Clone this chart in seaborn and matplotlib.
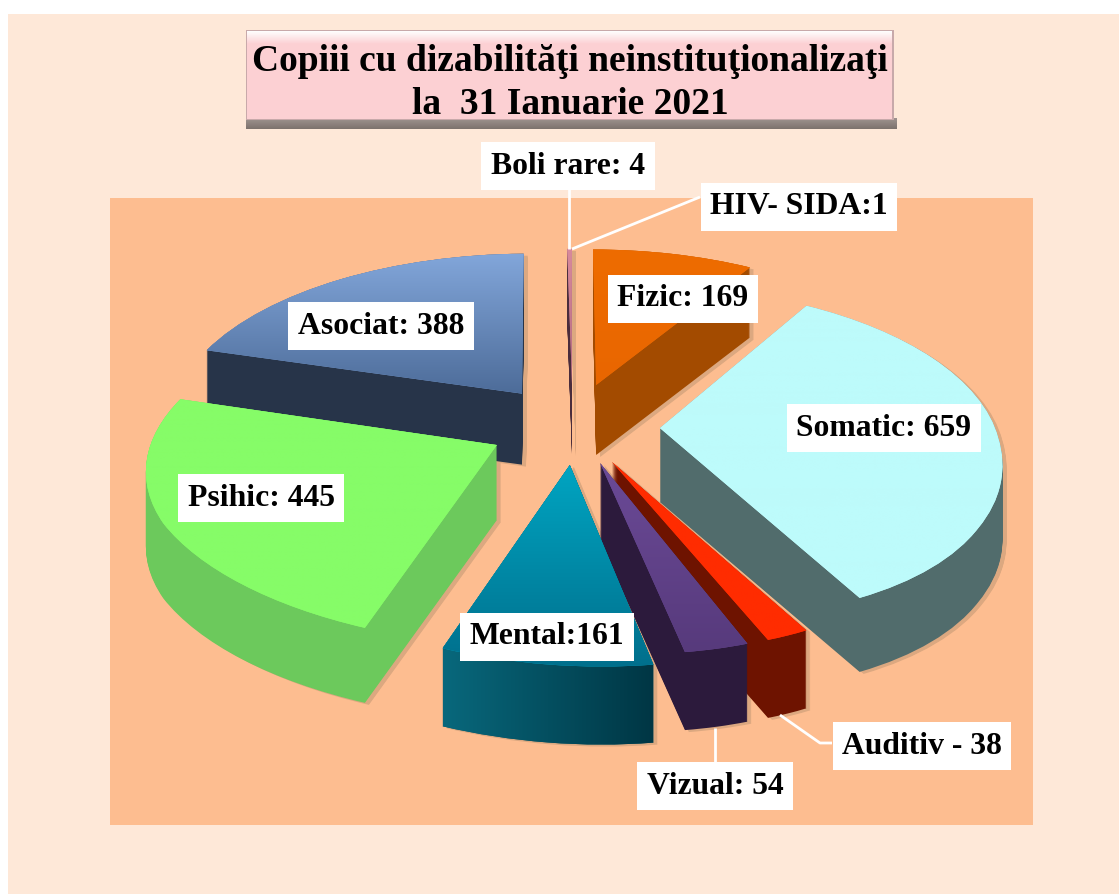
import numpy as np
import matplotlib
matplotlib.use('Agg')
import matplotlib.pyplot as plt
from matplotlib.patches import Rectangle
from matplotlib.path import Path
from matplotlib.transforms import Affine2D, Transform
import seaborn as sns

# data, clockwise from the top
names = ['Fizic', 'Somatic', 'Auditiv', 'Vizual', 'Mental', 'Psihic', 'Asociat', 'Boli rare', 'HIV']
values = [169, 659, 38, 54, 161, 445, 388, 4, 1]
label_texts = ['Fizic: 169', 'Somatic: 659', 'Auditiv - 38', 'Vizual: 54', 'Mental:161',
               'Psihic: 445', 'Asociat: 388', 'Boli rare: 4', 'HIV- SIDA:1']
title_text = 'Copiii cu dizabilităţi neinstituţionalizaţi\nla  31 Ianuarie 2021'

# styling of the slices
top_light = ['#ee6c00', '#bdfbfb', '#ff2c00', '#6b4a97', '#00a5c2', '#86fc68', '#82a6da', '#d98a9c', '#d98a9c']
top_dark = ['#e96600', '#bdfbfb', '#ff2c00', '#573a7c', '#006f8c', '#86fc68', '#4d6c99', '#b56a80', '#b56a80']
side_colors = ['#a34b00', '#516c6c', '#6e1300', '#2c1a3c', '#04505f', '#6cc95c', '#273449', '#4a2c3c', '#4a2c3c']
shifts = [(.072, .095), (.252, -.171), (.111, -.366), (.078, -.372), (-.006, -.383),
          (-.212, -.27), (-.148, .04), (0, .1), (0, .1)]
radii = [1, .96, .9, .91, .95, .98, 1.02, 1, 1]
skews = [0, .08, .12, .09, .085, .11, 0, 0, 0]
depths = [70, 74, 78, 78, 78, 75, 71, 70, 70]
draw_rank = [2, 5, 6, 7, 8, 4, 1, 3, 3]
label_pos = [(683, 299), (884, 428), (922, 746), (715, 786), (547, 637),
             (261, 498), (381, 326), (568, 166), (799, 207)]

sns.set_theme(style='white')
plt.rcParams['font.family'] = ['Liberation Serif', 'DejaVu Serif']
top_light = sns.color_palette(top_light)
top_dark = sns.color_palette(top_dark)

CX, CY, SX, SY, PERSP = 572, 400, 340, 160, .15


class Tilt(Transform):
    # pie plane to picture pixels, with some perspective
    input_dims = 2
    output_dims = 2
    is_affine = False
    has_inverse = False

    def __init__(self, tip_y, skew):
        super().__init__()
        self.tip_y = tip_y
        self.skew = skew

    def transform_non_affine(self, xy):
        xy = np.asarray(xy, dtype=float)
        x, y = xy[:, 0], xy[:, 1]
        x = x + self.skew * np.minimum(y - self.tip_y, 0) ** 2
        f = 1 / (1 + PERSP * y)
        return np.column_stack([CX + SX * x * f, CY - SY * y * f])


fig = plt.figure(figsize=(11.19, 8.94), dpi=100)
ax = fig.add_axes([0, 0, 1, 1])


def gradient(extent, colors, horizontal=False, z=0.0, clip=None):
    c0, c1 = np.array(matplotlib.colors.to_rgb(colors[0])), np.array(matplotlib.colors.to_rgb(colors[1]))
    t = np.linspace(0, 1, 256)[:, None]
    img = (c0[None, :] * (1 - t) + c1[None, :] * t)[:, None, :]
    if horizontal:
        img = img.transpose(1, 0, 2)
    im = ax.imshow(img, extent=extent, origin='upper', aspect='auto', zorder=z, interpolation='bilinear')
    if clip is not None:
        im.set_clip_path(clip)
    return im


# page background
fig.patch.set_facecolor('white')
ax.add_patch(Rectangle((8, 14), 1111, 880, fc='#fee8d8', ec='none', zorder=.1))
ax.add_patch(Rectangle((110, 198), 923, 627, fc='#fdbd90', ec='none', zorder=.2))

# title box
gradient((246, 897, 129, 118), ('#a09490', '#7d726d'), z=1)
ax.add_patch(Rectangle((246, 30), 648, 90, fc='#c8a9aa', ec='none', zorder=1.05))
gradient((247, 892, 44, 31), ('#ffffff', '#fcd0d3'), z=1.1)
ax.add_patch(Rectangle((247, 44), 645, 75, fc='#fcd0d3', ec='none', zorder=1.2))
ax.text(570, 83, title_text, ha='center', va='center', fontsize=27, fontweight='bold',
        color='black', linespacing=1.3, zorder=2)

# shadow first, then the side stack, then the top faces
stacks = {}
for layer in range(max(depths), -1, -1):
    for offs, cols, is_side in [((4, 2), ['#dca880'] * 9, False), ((0, 0), side_colors, True)]:
        wedges = ax.pie(values, startangle=90, counterclock=False, colors=cols,
                        wedgeprops=dict(linewidth=0))[0]
        for i, w in enumerate(wedges):
            if layer > depths[i]:
                w.remove()
                continue
            w.set_center(shifts[i])
            w.set_radius(radii[i])
            w.set_transform(Tilt(shifts[i][1], skews[i]) + Affine2D().translate(offs[0], layer + offs[1])
                            + ax.transData)
            if is_side:
                w.set_zorder(10 + draw_rank[i] * 10 + (max(depths) - layer) * .01)
                stacks.setdefault(i, []).append(w)
            else:
                w.set_zorder(3)

tops = ax.pie(values, startangle=90, counterclock=False, colors=top_light,
              wedgeprops=dict(linewidth=0))[0]
for i, w in enumerate(tops):
    w.set_center(shifts[i])
    w.set_radius(radii[i])
    w.set_transform(Tilt(shifts[i][1], skews[i]) + ax.transData)
    w.set_zorder(10 + draw_rank[i] * 10 + 5)

ax.set_xlim(0, 1119)
ax.set_ylim(894, 0)
ax.set_aspect('auto')

for i, w in enumerate(tops):
    verts = w.get_transform().transform_path(w.get_path()).vertices
    verts = ax.transData.inverted().transform(verts)
    x0, x1 = verts[:, 0].min(), verts[:, 0].max()
    y0, y1 = verts[:, 1].min(), verts[:, 1].max()
    gradient((x0, x1, y1, y0), (top_light[i], top_dark[i]), z=10 + draw_rank[i] * 10 + 6, clip=w)

# the side of Mental goes darker to the right
mental = names.index('Mental')
paths = [w.get_transform().transform_path(w.get_path()) for w in stacks[mental]]
side_path = Path.make_compound_path(*paths)
xs = ax.transData.inverted().transform(side_path.vertices)[:, 0]
im = gradient((xs.min(), xs.max(), 800, 440), ('#08687c', '#003644'), horizontal=True,
              z=10 + draw_rank[mental] * 10 + 4)
im.set_clip_path(side_path, matplotlib.transforms.IdentityTransform())

# leader lines
white = dict(color='white', lw=2, zorder=170, solid_capstyle='butt')
ax.plot([569, 569], [187, 249], **white)
ax.plot([700, 572], [197, 249], **white)
ax.plot([715, 715], [728, 763], **white)
ax.plot([780, 820, 832], [715, 743, 743], **white)

for txt, (x, y) in zip(label_texts, label_pos):
    ax.text(x, y, txt, ha='center', va='center', fontsize=22.8, fontweight='bold', color='black',
            zorder=180, bbox=dict(fc='white', ec='none', boxstyle='square,pad=0.3'))

ax.set_xlim(0, 1119)
ax.set_ylim(894, 0)
ax.set_aspect('auto')
ax.axis('off')
fig.savefig('out.png', dpi=100)
